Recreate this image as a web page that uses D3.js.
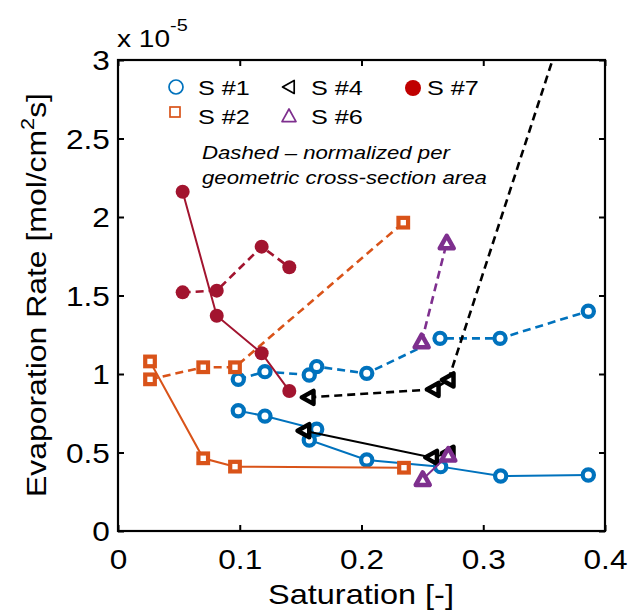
<!DOCTYPE html>
<html><head><meta charset="utf-8">
<script src="https://cdn.jsdelivr.net/npm/d3@7"></script>
<style>body{margin:0;background:#fff}svg{display:block}text{font-family:"Liberation Sans",Arial,Helvetica,sans-serif;fill:#000}</style>
</head><body>
<script>
// ---- data (saturation [-], evaporation rate [x1e-5 mol/cm^2 s]) ----
const s1SolidX = [0.0988,0.1207,0.1632,0.1571,0.2043,0.2650,0.3143,0.3863];
const s1SolidY = [0.766,0.732,0.648,0.580,0.452,0.410,0.350,0.357];
const s1DashX  = [0.0988,0.1207,0.1571,0.1632,0.2043,0.2645,0.3138,0.3863];
const s1DashY  = [0.966,1.015,0.994,1.047,1.004,1.227,1.227,1.400];
const s2SolidX = [0.0263,0.0700,0.0961,0.2349];
const s2SolidY = [1.080,0.463,0.410,0.403];
const s2DashX  = [0.0263,0.0700,0.0961,0.2343];
const s2DashY  = [0.966,1.043,1.043,1.964];
const s4SolidX = [0.1528,0.2577,0.2713];
const s4SolidY = [0.639,0.469,0.495];
const s4DashX  = [0.1563,0.2590,0.2713,0.3800];
const s4DashY  = [0.851,0.902,0.962,3.550];
const s6SolidX = [0.2503,0.2713];
const s6SolidY = [0.329,0.484];
const s6DashX  = [0.2494,0.2700];
const s6DashY  = [1.206,1.836];
const s7SolidX = [0.0531,0.0811,0.1180,0.1407];
const s7SolidY = [2.161,1.371,1.132,0.892];
const s7DashX  = [0.0531,0.0811,0.1180,0.1407];
const s7DashY  = [1.520,1.531,1.811,1.680];

const xTicks = [0,0.1,0.2,0.3,0.4];
const xTickLabels = ["0","0.1","0.2","0.3","0.4"];
const yTicks = [0,0.5,1,1.5,2,2.5,3];
const yTickLabels = ["0","0.5","1","1.5","2","2.5","3"];
const legendNames = ["S #1","S #2","S #4","S #6","S #7"];

const W=629,H=613;
const L=118,R=605,T=60,B=531;
const x=d3.scaleLinear().domain([0,0.4]).range([L,R]);
const y=d3.scaleLinear().domain([0,3]).range([B,T]);

const svg=d3.select("body").append("svg").attr("width",W).attr("height",H);
svg.append("defs").append("clipPath").attr("id","clip")
  .append("rect").attr("x",L).attr("y",T).attr("width",R-L).attr("height",B-T);

const C={blue:"#0072BD",orange:"#D95319",black:"#000",purple:"#7E2F8E",red:"#A2142F"};

// axes (ticks inward)
const gx=svg.append("g").attr("transform",`translate(0,${B})`)
  .call(d3.axisBottom(x).tickValues(xTicks).tickSizeInner(-6).tickSizeOuter(0)
    .tickFormat((d,i)=>xTickLabels[i]));
gx.selectAll("text").attr("y",38).attr("dy",null).style("font-size","27px")
  .attr("transform","scale(1.17,1)");
svg.append("g").attr("transform",`translate(0,${T})`)
  .call(d3.axisTop(x).tickValues(xTicks).tickSizeInner(-6).tickSizeOuter(0).tickFormat(""));
const gy=svg.append("g").attr("transform",`translate(${L},0)`)
  .call(d3.axisLeft(y).tickValues(yTicks).tickSizeInner(-6).tickSizeOuter(0)
    .tickFormat((d,i)=>yTickLabels[i]));
gy.selectAll("text").attr("x",-7).attr("dy","0.36em").style("font-size","27px")
  .attr("transform","scale(1.17,1)");
svg.append("g").attr("transform",`translate(${R},0)`)
  .call(d3.axisRight(y).tickValues(yTicks).tickSizeInner(-6).tickSizeOuter(0).tickFormat(""));
svg.selectAll(".domain").remove();
svg.selectAll(".tick line").attr("stroke","#000").attr("stroke-width",2);
svg.append("rect").attr("x",L).attr("y",T).attr("width",R-L).attr("height",B-T)
  .attr("fill","none").attr("stroke","#000").attr("stroke-width",2.2);

// exponent label
const ex=svg.append("text").attr("transform",`translate(117,47) scale(1.17,1)`).style("font-size","24px");
ex.append("tspan").text("x 10");
ex.append("tspan").attr("dy",-16).style("font-size","17px").text("-5");

// axis titles
svg.append("text").attr("text-anchor","middle")
  .attr("transform",`translate(361,604) scale(1.16,1)`).style("font-size","28px").text("Saturation [-]");
const yl=svg.append("text").attr("text-anchor","middle")
  .attr("transform",`translate(46,295) rotate(-90) scale(1.14,1)`).style("font-size","28px");
yl.append("tspan").text("Evaporation Rate [mol/cm");
yl.append("tspan").attr("dy",-12).style("font-size","19px").text("2");
yl.append("tspan").attr("dy",12).text("s]");

// markers
function marker(g,type,color,px,py,s,sw,fill){
  if(type==="circle") g.append("circle").attr("cx",px).attr("cy",py).attr("r",s)
     .attr("fill",fill).attr("stroke",color).attr("stroke-width",sw);
  else if(type==="dot") g.append("circle").attr("cx",px).attr("cy",py).attr("r",s)
     .attr("fill",color).attr("stroke","none");
  else if(type==="square") g.append("rect").attr("x",px-s).attr("y",py-s).attr("width",2*s).attr("height",2*s)
     .attr("fill",fill).attr("stroke",color).attr("stroke-width",sw);
  else if(type==="left") g.append("path").attr("d",`M${px-s},${py}L${px+s*0.8},${py-s}L${px+s*0.8},${py+s}Z`)
     .attr("fill",fill).attr("stroke",color).attr("stroke-width",sw).attr("stroke-linejoin","round");
  else if(type==="up") g.append("path").attr("d",`M${px},${py-s}L${px+s},${py+s*0.8}L${px-s},${py+s*0.8}Z`)
     .attr("fill",fill).attr("stroke",color).attr("stroke-width",sw).attr("stroke-linejoin","round");
}
const plot=svg.append("g").attr("clip-path","url(#clip)");
const line=d3.line().x(d=>x(d[0])).y(d=>y(d[1]));
function series(xs,ys,color,dashed,type,size,sw){
  const pts=xs.map((v,i)=>[v,ys[i]]);
  plot.append("path").datum(pts).attr("d",line).attr("fill","none").attr("stroke",color)
    .attr("stroke-width",dashed?2.6:2).attr("stroke-dasharray",dashed?"8,5":null);
  pts.forEach(p=>marker(plot,type,color,x(p[0]),y(p[1]),size,sw,"#fff"));
}
series(s1SolidX,s1SolidY,C.blue,false,"circle",5.6,4.2);
series(s1DashX,s1DashY,C.blue,true,"circle",5.6,4.2);
series(s2SolidX,s2SolidY,C.orange,false,"square",4.8,4.2);
series(s2DashX,s2DashY,C.orange,true,"square",4.8,4.2);
series(s4SolidX,s4SolidY,C.black,false,"left",6.5,4.5);
series(s4DashX,s4DashY,C.black,true,"left",6.5,4.5);
series(s6SolidX,s6SolidY,C.purple,false,"up",7,4.5);
series(s6DashX,s6DashY,C.purple,true,"up",7,4.5);
series(s7SolidX,s7SolidY,C.red,false,"dot",7,0);
series(s7DashX,s7DashY,C.red,true,"dot",7,0);

// legend
const leg=svg.append("g");
const legItems=[
  {n:legendNames[0],t:"circle",c:C.blue,mx:176,my:87,tx:198,ty:95,s:7},
  {n:legendNames[1],t:"square",c:C.orange,mx:175,my:112,tx:198,ty:124,s:5},
  {n:legendNames[2],t:"left",c:C.black,mx:289,my:87,tx:311,ty:95,s:6.5},
  {n:legendNames[3],t:"up",c:C.purple,mx:289,my:116,tx:311,ty:124,s:7},
  {n:legendNames[4],t:"dot",c:"#C00000",mx:413,my:88,tx:427,ty:95,s:8}
];
legItems.forEach(d=>{
  marker(leg,d.t,d.c,d.mx,d.my,d.s,1.7,"none");
  leg.append("text").attr("transform",`translate(${d.tx},${d.ty}) scale(1.2,1)`)
    .style("font-size","21px").text(d.n);
});
svg.append("text").attr("transform","translate(202,159) scale(1.2,1)")
  .style("font-size","18.5px").style("font-style","italic").text("Dashed \u2013 normalized per");
svg.append("text").attr("transform","translate(202,184) scale(1.2,1)")
  .style("font-size","18.5px").style("font-style","italic").text("geometric cross-section area");
</script>
</body></html>
